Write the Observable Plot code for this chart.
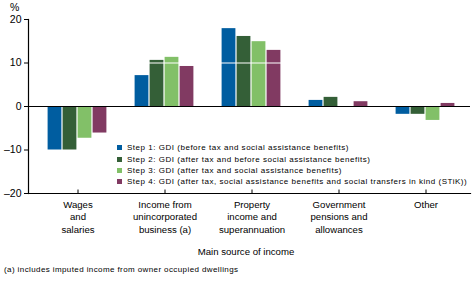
<!DOCTYPE html>
<html>
<head>
<meta charset="utf-8">
<script src="https://cdn.jsdelivr.net/npm/d3@7"></script>
<script src="https://cdn.jsdelivr.net/npm/@observablehq/plot@0.6"></script>
<style>
  html, body { margin: 0; padding: 0; background: #fff; }
  #wrap { position: relative; width: 472px; height: 283px; font-family: "Liberation Sans", Arial, sans-serif; color: #000; }
  #wrap svg { position: absolute; left: 0; top: 0; }
  .ov { position: absolute; white-space: nowrap; line-height: 1; }
  .leg { position: absolute; left: 117px; top: 142px; font-size: 8px; letter-spacing: 0.52px; }
  .leg div { height: 11.4px; display: flex; align-items: center; white-space: nowrap; }
  .leg span.sw { display: inline-block; width: 5px; height: 5px; margin-right: 5px; }
</style>
</head>
<body>
<div id="wrap"></div>
<script>
const categories = [
  "Wages and salaries",
  "Income from unincorporated business (a)",
  "Property income and superannuation",
  "Government pensions and allowances",
  "Other"
];
const categoryLabels = [
  "Wages\nand\nsalaries",
  "Income from\nunincorporated\nbusiness (a)",
  "Property\nincome and\nsuperannuation",
  "Government\npensions and\nallowances",
  "Other"
];
const seriesNames = [
  "Step 1: GDI (before tax and social assistance benefits)",
  "Step 2: GDI (after tax and before social assistance benefits)",
  "Step 3: GDI (after tax and social assistance benefits)",
  "Step 4: GDI (after tax, social assistance benefits and social transfers in kind (STiK))"
];
const step1 = [-10.0, 7.1, 17.9, 1.4, -1.8];
const step2 = [-10.0, 10.6, 16.1, 2.1, -1.8];
const step3 = [-7.3, 11.3, 14.9, 0.0, -3.2];
const step4 = [-6.1, 9.2, 12.9, 1.1, 0.7];
const seriesValues = [step1, step2, step3, step4];
const colors = ["#005da0", "#345f37", "#82c068", "#813a62"];
const yTicks = [-20, -10, 0, 10, 20];
const yLabel = "%";
const xTitle = "Main source of income";
const footnote = "(a) includes imputed income from owner occupied dwellings";

const labelOf = new Map(categories.map((c, i) => [c, categoryLabels[i]]));

const barMarks = seriesValues.map((vals, i) =>
  Plot.barY(categories.map((c, j) => ({category: c, value: vals[j]})), {
    x: "category",
    y: "value",
    fill: colors[i],
    insetLeft: 13.6 + 15 * i,
    insetRight: 59.6 - 15 * i
  })
);

const chart = Plot.plot({
  width: 472,
  height: 283,
  marginTop: 19,
  marginBottom: 90,
  marginLeft: 28,
  marginRight: 2,
  style: {fontFamily: "'Liberation Sans', Arial, sans-serif", color: "#000", background: "#fff"},
  x: {domain: categories, padding: 0, insetLeft: 5.4, insetRight: 1.4, axis: null},
  y: {domain: [-20, 20], axis: null},
  marks: [
    ...barMarks,
    Plot.ruleY([10], {stroke: "#fff", strokeWidth: 1.2}),
    Plot.ruleY([0], {stroke: "#000", strokeWidth: 1.2}),
    Plot.frame({anchor: "left", stroke: "#000", strokeWidth: 1.2}),
    Plot.frame({anchor: "bottom", stroke: "#000", strokeWidth: 1.2}),
    Plot.axisY({
      ticks: yTicks, tickSize: 4, tickPadding: 3, fontSize: 10.5, label: null,
      tickFormat: d => d < 0 ? "\u2013" + (-d) : String(d)
    }),
    Plot.ruleX(categories, {x: d => d, y1: -20, y2: -19.2, stroke: "#000"}),
    Plot.axisX({
      tickSize: 0, tickPadding: 6, fontSize: 9.6, label: null, lineHeight: 1.27,
      tickFormat: d => labelOf.get(d)
    })
  ]
});

const wrap = document.getElementById("wrap");
wrap.appendChild(chart);

function addText(txt, left, top, size) {
  const d = document.createElement("div");
  d.className = "ov";
  d.style.left = left + "px";
  d.style.top = top + "px";
  d.style.fontSize = size + "px";
  d.textContent = txt;
  wrap.appendChild(d);
  return d;
}
addText(yLabel, 10, 2, 10.5);
const xt = addText(xTitle, 0, 247, 9.6);
xt.style.left = "0px"; xt.style.width = "492px"; xt.style.textAlign = "center";
const fn = addText(footnote, 4, 266, 8);
fn.style.letterSpacing = "0.4px";

const leg = document.createElement("div");
leg.className = "leg";
seriesNames.forEach((s, i) => {
  const row = document.createElement("div");
  const sw = document.createElement("span");
  sw.className = "sw";
  sw.style.background = colors[i];
  row.appendChild(sw);
  row.appendChild(document.createTextNode(s));
  leg.appendChild(row);
});
wrap.appendChild(leg);
</script>
</body>
</html>
